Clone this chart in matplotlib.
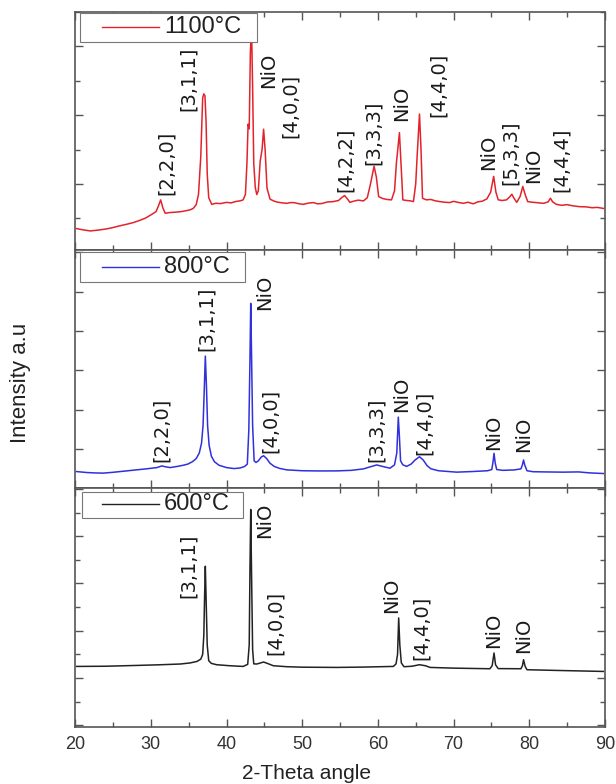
import matplotlib
matplotlib.use("Agg")
import matplotlib.pyplot as plt
from matplotlib.patches import Rectangle
from matplotlib.ticker import MultipleLocator, FixedLocator

# 2-theta / intensity points (a.u.)
x1100 = [20.2, 21.0, 22.0, 23.0, 24.0, 24.8, 26.0, 27.0, 27.7, 28.5, 29.3, 30.1, 30.7, 31.0, 31.3, 31.6, 31.9,
         32.5, 33.2, 33.9, 34.6, 35.2, 35.6, 36.0, 36.3, 36.6, 36.85, 37.0, 37.15, 37.3, 37.45, 37.65, 38.05,
         38.6, 39.2, 40.0, 40.6, 41.2, 41.8, 42.2, 42.5, 42.7, 42.85, 43.0, 43.15, 43.3, 43.45, 43.6, 43.8, 44.0,
         44.2, 44.45, 44.7, 44.9, 45.1, 45.35, 45.75, 46.3, 46.8, 47.4, 47.96, 48.5, 49.0, 49.6, 50.15, 50.8,
         51.5, 52.0, 52.6, 53.3, 54.1, 54.8, 55.2, 55.6, 56.0, 56.3, 56.8, 57.4, 58.1, 58.6, 59.0, 59.5,
         59.8, 60.1, 60.6, 61.2, 61.8, 62.2, 62.45, 62.85, 63.05, 63.3, 63.8, 64.3, 64.7, 65.0, 65.2, 65.5,
         65.7, 65.9, 66.4, 67.0, 67.6, 68.2, 68.8, 69.5, 70.0, 70.6, 71.3, 71.9, 72.6, 73.2, 73.8, 74.4,
         74.9, 75.3, 75.6, 75.9, 76.4, 77.0, 77.4, 77.7, 78.0, 78.35, 78.8, 79.15, 79.45, 79.8, 80.4, 81.1,
         81.9, 82.5, 82.8, 83.1, 83.6, 84.3, 85.0, 85.8, 86.7, 87.5, 88.3, 89.0, 89.8]
y1100 = [352, 335, 318, 330, 345, 362, 395, 420, 440, 470, 505, 557, 600, 680, 769, 650, 575,
         585, 590, 597, 610, 625, 645, 700, 850, 1400, 2250, 2308, 2280, 1900, 1150, 800, 704,
         720, 715, 733, 725, 745, 755, 769, 850, 1300, 1868, 1800, 2900, 3300, 2400, 1300, 950, 846,
         900, 1330, 1500, 1795, 1500, 939, 780, 750, 735, 725, 719, 730, 728, 712, 704, 722,
         730, 712, 716, 738, 744, 760, 800, 832, 780, 733, 750, 765, 754, 800, 988, 1257,
         1100, 817, 790, 775, 769, 900, 1305, 1745, 1300, 769, 760, 755, 744, 1000, 1428, 2015,
         1500, 792, 770, 775, 755, 744, 735, 730, 748, 733, 719, 735, 712, 740, 750, 783,
         880, 1110, 880, 770, 760, 769, 810, 851, 790, 733, 820, 964, 850, 744, 735, 728,
         719, 740, 792, 740, 704, 690, 700, 682, 670, 668, 655, 660, 645]

x800 = [20.2, 21.5, 22.5, 23.7, 25.0, 26.5, 28.1, 29.5, 30.8, 31.45, 32.0, 32.55, 33.5, 34.3, 34.9, 35.5,
        36.0, 36.4, 36.7, 36.9, 37.05, 37.2, 37.35, 37.5, 37.7, 38.0, 38.4, 39.0, 40.0, 41.0, 41.8, 42.4,
        42.75, 42.95, 43.1, 43.2, 43.3, 43.45, 43.65, 43.9, 44.2, 44.6, 44.9, 45.3, 45.75, 46.3, 47.0, 47.96,
        50.0, 52.0, 54.6, 56.5, 58.1, 59.0, 59.85, 60.6, 61.6, 62.2, 62.5, 62.7, 62.85, 63.0, 63.3, 63.8,
        64.4, 64.9, 65.5, 66.0, 66.5, 67.0, 68.0, 70.4, 72.5, 74.5, 75.05, 75.2, 75.35, 75.5, 75.7, 76.5,
        78.0, 78.9, 79.1, 79.25, 79.4, 79.7, 80.5, 82.0, 84.5, 86.5, 88.0, 89.8]
y800 = [429, 405, 395, 389, 410, 440, 472, 500, 530, 572, 548, 530, 560, 590, 620, 680,
        760, 900, 1150, 1600, 2442, 3365, 2600, 1600, 1100, 820, 680, 590, 530, 505, 520, 560,
        620, 1500, 3300, 4706, 3500, 1600, 700, 660, 700, 800, 831, 760, 640, 560, 510, 472,
        450, 445, 446, 460, 497, 550, 597, 560, 514, 600, 900, 1813, 1300, 700, 600, 560,
        620, 720, 806, 720, 580, 500, 450, 414, 430, 450, 480, 650, 892, 650, 480, 460,
        470, 497, 600, 723, 600, 450, 425, 420, 414, 420, 395, 379]

x600 = [20.2, 24.0, 28.1, 31.0, 33.9, 35.2, 36.1, 36.6, 36.85, 37.0, 37.1, 37.2, 37.3, 37.45, 37.65, 38.0,
        38.7, 40.5, 42.2, 42.8, 43.0, 43.1, 43.2, 43.3, 43.45, 43.6, 44.0, 44.5, 44.9, 45.4, 46.2, 48.0,
        50.0, 54.6, 58.0, 62.05, 62.4, 62.6, 62.75, 62.9, 63.1, 63.45, 64.5, 65.5, 66.3, 66.9, 70.0, 74.8,
        75.1, 75.35, 75.55, 75.9, 78.9, 79.1, 79.25, 79.45, 79.7, 84.0, 89.8]
y600 = [1246, 1250, 1267, 1280, 1297, 1320, 1352, 1400, 1500, 1900, 2700, 3365, 2700, 1700, 1367, 1310,
        1282, 1260, 1246, 1290, 1700, 3300, 4566, 3300, 1600, 1300, 1297, 1320, 1339, 1310, 1260, 1240,
        1230, 1225, 1232, 1246, 1300, 1500, 2271, 1700, 1320, 1240, 1250, 1282, 1260, 1225, 1210, 1197,
        1260, 1530, 1280, 1200, 1197, 1260, 1388, 1250, 1176, 1160, 1140]

# peak labels: text, 2-theta, intensity at the foot of the text
lab1100 = ["[2,2,0]", "[3,1,1]", "NiO", "[4,0,0]", "[4,2,2]", "[3,3,3]", "NiO", "[4,4,0]", "NiO", "[5,3,3]", "NiO", "[4,4,4]"]
lx1100 = [32.1, 35.0, 45.6, 48.4, 55.7, 59.4, 63.15, 68.0, 74.6, 77.45, 80.6, 84.3]
ly1100 = [846, 2063, 2386, 1672, 890, 1282, 1916, 1965, 1208, 988, 1012, 890]

lab800 = ["[2,2,0]", "[3,1,1]", "NiO", "[4,0,0]", "[3,3,3]", "NiO", "[4,4,0]", "NiO", "NiO"]
lx800 = [31.45, 37.4, 45.1, 45.75, 59.85, 63.15, 66.2, 75.25, 79.2]
ly800 = [681, 3491, 4540, 892, 681, 1938, 849, 975, 932]

lab600 = ["[3,1,1]", "NiO", "[4,0,0]", "NiO", "[4,4,0]", "NiO", "NiO"]
lx600 = [35.0, 45.1, 46.4, 61.8, 65.8, 75.25, 79.3]
ly600 = [2695, 3967, 1494, 2377, 1388, 1636, 1530]

plt.rcParams['font.family'] = ['Liberation Sans', 'DejaVu Sans']

fig, axs = plt.subplots(3, 1, figsize=(6.16, 7.84), dpi=100, sharex=True)
plt.subplots_adjust(left=0.122, right=0.982, bottom=0.073, top=0.985, hspace=0)

# (axis, x, y, colour, name, labels..., ylim, legend box [x0, y0, x1, y1] in axes fraction, legend line y)
panels = [
    (axs[0], x1100, y1100, "#e3232b", "1100°C", lab1100, lx1100, ly1100, (40, 3500), (0.0094, 0.873, 0.343, 0.996), 0.936),
    (axs[1], x800, y800, "#3030dc", "800°C", lab800, lx800, ly800, (0, 6060), (0.0094, 0.867, 0.321, 0.992), 0.927),
    (axs[2], x600, y600, "#222222", "600°C", lab600, lx600, ly600, (-30, 5010), (0.013, 0.878, 0.317, 0.987), 0.933),
]

for ax, xs, ys, col, name, labs, lxs, lys, ylim, box, ly in panels:
    ax.plot(xs, ys, color=col, lw=1.1)
    for t, lx, lyy in zip(labs, lxs, lys):
        ax.text(lx, lyy, t, rotation=90, ha="center", va="bottom", fontsize=14,
                family="DejaVu Sans", color="#1a1a1a")
    ax.set_xlim(20, 90)
    ax.set_ylim(*ylim)
    ax.xaxis.set_major_locator(MultipleLocator(10))
    ax.xaxis.set_minor_locator(MultipleLocator(5))
    ax.tick_params(which="both", direction="in", top=True, right=True, color="#555555",
                   labelsize=13, labelcolor="#333333", pad=7)
    ax.tick_params(which="major", length=6, width=1.0)
    ax.tick_params(which="minor", length=3.5, width=1.0)
    for s in ax.spines.values():
        s.set_color("#555555")
        s.set_linewidth(1.2)
    # legend box drawn over the curve, like the original software does
    ax.add_patch(Rectangle((box[0], box[1]), box[2] - box[0], box[3] - box[1], transform=ax.transAxes,
                           facecolor="white", edgecolor="#777777", lw=0.8, zorder=5))
    ax.plot([0.051, 0.158], [ly, ly], color=col, lw=1.0, transform=ax.transAxes, zorder=6)
    ax.text(0.168, ly, name, transform=ax.transAxes, ha="left", va="center", fontsize=17,
            color="#222222", zorder=6)

axs[0].yaxis.set_major_locator(FixedLocator([1000, 2000, 3000]))
axs[0].yaxis.set_minor_locator(FixedLocator([500, 1500, 2500, 3500]))
axs[1].yaxis.set_major_locator(MultipleLocator(1000))
axs[1].yaxis.set_minor_locator(FixedLocator([]))
axs[2].yaxis.set_major_locator(MultipleLocator(1000))
axs[2].yaxis.set_minor_locator(MultipleLocator(500))
for ax in axs:
    ax.set_yticklabels([])

fig.text(0.497, 0.014, "2-Theta angle", ha="center", va="center", fontsize=15, color="#222222")
fig.text(0.033, 0.511, "Intensity a.u", rotation=90, ha="center", va="center", fontsize=16, color="#222222")

fig.savefig("out.png", dpi=100)
